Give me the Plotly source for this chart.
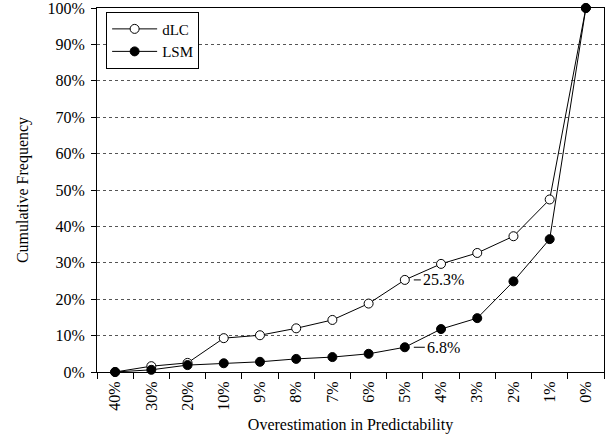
import plotly.graph_objects as go

categories = ["40%", "30%", "20%", "10%", "9%", "8%", "7%", "6%", "5%", "4%", "3%", "2%", "1%", "0%"]
dlc = [0, 1.6, 2.5, 9.3, 10.1, 12.0, 14.3, 18.8, 25.3, 29.7, 32.7, 37.3, 47.4, 100]
lsm = [0, 0.6, 1.9, 2.4, 2.8, 3.6, 4.1, 5.0, 6.8, 11.8, 14.8, 24.9, 36.5, 100]
y_ticks = [0, 10, 20, 30, 40, 50, 60, 70, 80, 90, 100]
y_tick_labels = [f"{v}%" for v in y_ticks]

FONT = "Liberation Serif"

fig = go.Figure()
fig.add_trace(go.Scatter(
    x=categories, y=dlc, name="dLC", mode="lines+markers",
    line=dict(color="black", width=1),
    marker=dict(symbol="circle", size=9, color="white", line=dict(color="black", width=1)),
    cliponaxis=False,
))
fig.add_trace(go.Scatter(
    x=categories, y=lsm, name="LSM", mode="lines+markers",
    line=dict(color="black", width=1),
    marker=dict(symbol="circle", size=9, color="black", line=dict(color="black", width=1)),
    cliponaxis=False,
))

for cat, val in [("5%", dlc[8]), ("5%", lsm[8])]:
    fig.add_annotation(
        x=cat, y=val, xref="x", yref="y", text=f"{val}%",
        showarrow=True, arrowhead=0, arrowwidth=1, arrowcolor="black",
        ax=39, ay=0, standoff=9, borderpad=2,
        font=dict(family=FONT, size=16, color="black"),
    )

fig.update_layout(
    width=610, height=434,
    margin=dict(l=97, r=6, t=8, b=62),
    paper_bgcolor="white", plot_bgcolor="white",
    font=dict(family=FONT, size=16, color="black"),
    showlegend=True,
    hovermode=False,
    legend=dict(
        x=0.018, y=0.99, xanchor="left", yanchor="top",
        bordercolor="black", borderwidth=1, bgcolor="white",
        font=dict(family=FONT, size=15, color="black"),
        tracegroupgap=0, itemwidth=45,
    ),
    xaxis=dict(
        type="category", categoryorder="array", categoryarray=categories,
        range=[-0.5, 13.5], tickangle=-90, tickson="boundaries",
        ticks="outside", ticklen=6, tickcolor="black", ticklabelstandoff=2,
        showline=True, linecolor="black", linewidth=1, mirror=True,
        showgrid=False, zeroline=False, automargin=False,
        title=dict(text="Overestimation in Predictability", font=dict(family=FONT, size=16), standoff=9),
    ),
    yaxis=dict(
        range=[0, 100], tickmode="array", tickvals=y_ticks, ticktext=y_tick_labels,
        ticks="outside", ticklen=5, tickcolor="black", ticklabelstandoff=3,
        ticklabeloverflow="allow",
        showline=True, linecolor="black", linewidth=1, mirror=True,
        showgrid=True, gridcolor="#555555", griddash="dot", gridwidth=1,
        zeroline=False, automargin=False,
        title=dict(text="Cumulative Frequency", font=dict(family=FONT, size=16), standoff=14),
    ),
)

fig.write_html(
    "out.html",
    config={"displayModeBar": False, "staticPlot": True},
    post_script="document.body.style.margin='0';",
)
